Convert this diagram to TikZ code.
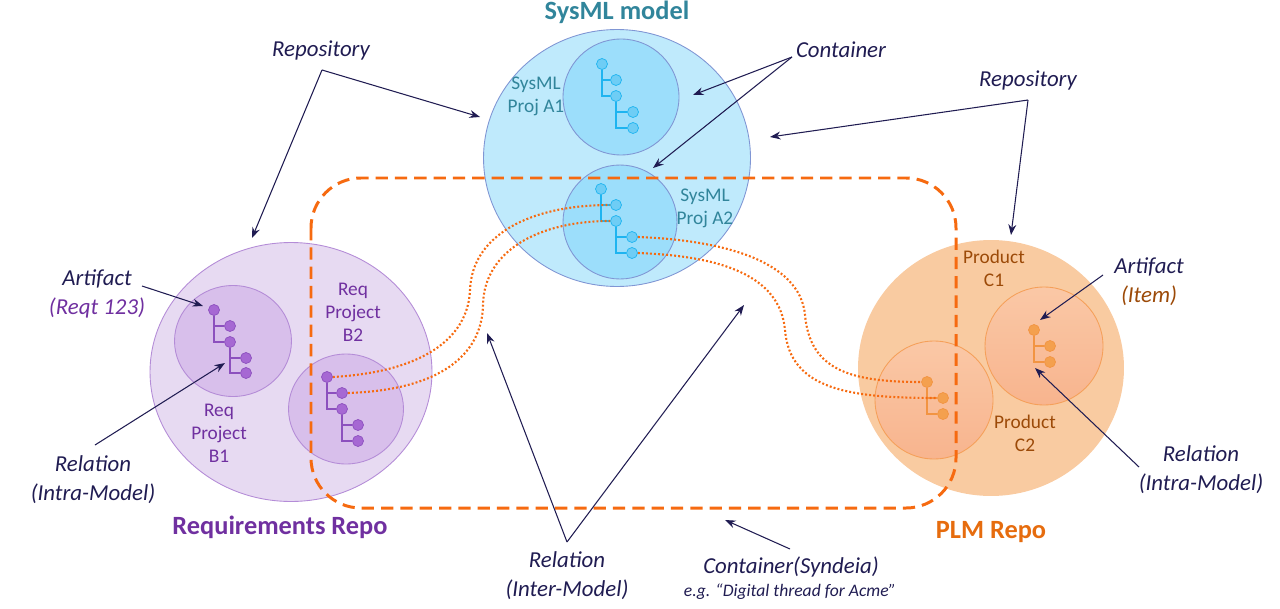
\documentclass[tikz,border=0pt]{standalone}
\usepackage{fontspec}
\setmainfont{Carlito}
\usepackage{tikz}
\usetikzlibrary{shapes.geometric,arrows.meta}

\definecolor{navy}{RGB}{32,28,82}
\definecolor{systeal}{RGB}{49,133,155}
\definecolor{sysfill}{RGB}{191,234,252}
\definecolor{sysin}{RGB}{156,222,251}
\definecolor{sysline}{RGB}{128,150,212}
\definecolor{systree}{RGB}{30,180,240}
\definecolor{sysdot}{RGB}{110,205,245}
\definecolor{reqpurple}{RGB}{112,48,160}
\definecolor{reqfill}{RGB}{231,218,242}
\definecolor{reqin}{RGB}{216,191,235}
\definecolor{reqline}{RGB}{180,140,215}
\definecolor{reqtree}{RGB}{140,80,190}
\definecolor{reqdot}{RGB}{166,104,211}
\definecolor{plmorange}{RGB}{230,108,14}
\definecolor{dashorange}{RGB}{246,106,16}
\definecolor{plmfill}{RGB}{249,203,161}
\definecolor{plmintop}{RGB}{250,200,166}
\definecolor{plminbot}{RGB}{248,180,142}
\definecolor{plmline}{RGB}{245,160,90}
\definecolor{plmtree}{RGB}{242,148,66}
\definecolor{plmdot}{RGB}{244,160,78}
\definecolor{itembrown}{RGB}{156,74,8}

\tikzset{
  repo/.style={ellipse, inner sep=0pt, line width=0.5pt},
  proj/.style={ellipse, inner sep=0pt, line width=0.5pt},
  treenode/.style={circle, inner sep=0pt, minimum size=0.22cm, line width=0.4pt},
  sysnode/.style={treenode, fill=sysdot, draw=systree},
  reqnode/.style={treenode, fill=reqdot, draw=reqtree},
  plmnode/.style={treenode, fill=plmdot, draw=plmtree},
  inlabel/.style={font=\fontsize{11}{13}\selectfont, align=center},
  title/.style={font=\fontsize{15}{18}\selectfont\bfseries},
  note/.style={font=\fontsize{13}{16.5}\selectfont\itshape, text=navy, align=center},
  annot/.style={draw=navy, line width=0.6pt, -{Stealth[length=6pt,width=4.5pt]}},
  relation/.style={draw=dashorange, line width=1.2pt, dash pattern=on 1.1pt off 1.2pt}
}

\begin{document}
\begin{tikzpicture}[x=0.02cm, y=-0.02cm]
    \useasboundingbox (0,0) rectangle (1280,608);

    % Repositories
    \node[repo, fill=sysfill, draw=sysline, minimum width=5.34cm, minimum height=5.14cm] (sysrepo) at (617,158) {};
    \node[repo, fill=reqfill, draw=reqline, minimum width=5.64cm, minimum height=5.18cm] (reqrepo) at (291,372) {};
    \node[repo, fill=plmfill, minimum width=5.32cm, minimum height=5.12cm] (plmrepo) at (991,368) {};

    % Projects
    \node[proj, fill=sysin, draw=sysline, minimum size=2.32cm] (a1) at (621,97) {};
    \node[proj, fill=sysin, draw=sysline, minimum size=2.28cm] (a2) at (620,222) {};
    \node[proj, fill=reqin, draw=reqline, minimum width=2.34cm, minimum height=2.22cm] (b1) at (233,341) {};
    \node[proj, fill=reqin, draw=reqline, minimum width=2.3cm, minimum height=2.2cm] (b2) at (346,409) {};
    \node[proj, top color=plmintop, bottom color=plminbot, draw=plmline, minimum size=2.36cm] (c1) at (1044,346) {};
    \node[proj, top color=plmintop, bottom color=plminbot, draw=plmline, minimum size=2.36cm] (c2) at (934,400) {};

    % Artifacts
    \node[sysnode] (a1r) at (602,64) {};  \node[sysnode] (a1c1) at (616,80) {};  \node[sysnode] (a1c2) at (616,96) {};
    \node[sysnode] (a1c3) at (633,112) {}; \node[sysnode] (a1c4) at (633,128) {};
    \node[sysnode] (a2r) at (601,189) {}; \node[sysnode] (a2c1) at (616,205) {}; \node[sysnode] (a2c2) at (616,221) {};
    \node[sysnode] (a2c3) at (632,237) {}; \node[sysnode] (a2c4) at (632,253) {};
    \node[reqnode] (b1r) at (214,310) {}; \node[reqnode] (b1c1) at (230,326) {}; \node[reqnode] (b1c2) at (230,342) {};
    \node[reqnode] (b1c3) at (246,358) {}; \node[reqnode] (b1c4) at (246,373) {};
    \node[reqnode] (b2r) at (327,377) {}; \node[reqnode] (b2c1) at (342,393) {}; \node[reqnode] (b2c2) at (342,409) {};
    \node[reqnode] (b2c3) at (358,425) {}; \node[reqnode] (b2c4) at (358,441) {};
    \node[plmnode] (c1r) at (1034,330) {}; \node[plmnode] (c1c1) at (1050,346) {}; \node[plmnode] (c1c2) at (1050,362) {};
    \node[plmnode] (c2r) at (927,382) {}; \node[plmnode] (c2c1) at (943,398) {}; \node[plmnode] (c2c2) at (943,414) {};

    % Intra-model relations
    \draw[systree, line width=0.8pt] (a1r) |- (a1c1) (a1r) |- (a1c2) (a1c2) |- (a1c3) (a1c2) |- (a1c4);
    \draw[systree, line width=0.8pt] (a2r) |- (a2c1) (a2r) |- (a2c2) (a2c2) |- (a2c3) (a2c2) |- (a2c4);
    \draw[reqtree, line width=0.8pt] (b1r) |- (b1c1) (b1r) |- (b1c2) (b1c2) |- (b1c3) (b1c2) |- (b1c4);
    \draw[reqtree, line width=0.8pt] (b2r) |- (b2c1) (b2r) |- (b2c2) (b2c2) |- (b2c3) (b2c2) |- (b2c4);
    \draw[plmtree, line width=0.8pt] (c1r) |- (c1c1) (c1r) |- (c1c2);
    \draw[plmtree, line width=0.8pt] (c2r) |- (c2c1) (c2r) |- (c2c2);

    % Labels
    \node[title, text=systeal] (systitle) at (617,12) {SysML model};
    \node[title, text=reqpurple] (reqtitle) at (280,527) {Requirements Repo};
    \node[title, text=plmorange] (plmtitle) at (991,532) {PLM Repo};
    \node[inlabel, text=systeal] (a1lab) at (536,96) {SysML\\Proj A1};
    \node[inlabel, text=systeal] (a2lab) at (705,208) {SysML\\Proj A2};
    \node[inlabel, text=reqpurple] (b1lab) at (219,433) {Req\\Project\\B1};
    \node[inlabel, text=reqpurple] (b2lab) at (353,312) {Req\\Project\\B2};
    \node[inlabel, text=itembrown] (c1lab) at (994,268) {Product\\C1};
    \node[inlabel, text=itembrown] (c2lab) at (1025,433) {Product\\C2};

    % Container (Syndeia)
    \draw[dashorange, line width=1.7pt, dash pattern=on 7pt off 4pt, rounded corners=1cm] (311,178) rectangle (956,508);

    % Inter-model relations
    \coordinate (m1) at (470,290);
    \coordinate (m2) at (483,305);
    \coordinate (m3) at (805,315);
    \coordinate (m4) at (785,330);
    \draw[relation] (b2r.east) .. controls (420,372) and (468,340) .. (m1) .. controls (472,235) and (530,205) .. (a2c1.west);
    \draw[relation] (b2c1.east) .. controls (440,390) and (482,355) .. (m2) .. controls (484,250) and (540,221) .. (a2c2.west);
    \draw[relation] (a2c3.east) .. controls (720,240) and (800,260) .. (m3) .. controls (810,370) and (850,382) .. (c2r.west);
    \draw[relation] (a2c4.east) .. controls (720,256) and (780,275) .. (m4) .. controls (790,390) and (850,398) .. (c2c1.west);

    % Annotations
    \node[note] (repoL) at (321,50) {Repository};
    \node[note] (contA) at (841,50) {Container};
    \node[note] (repoR) at (1028,80) {Repository};
    \node[note] (artL) at (97,294) {Artifact\\{\color{reqpurple}(Reqt 123)}};
    \node[note] (relL) at (93,480) {Relation\\(Intra-Model)};
    \node[note] (artR) at (1149,282) {Artifact\\{\color{itembrown}(Item)}};
    \node[note] (relR) at (1201,470) {Relation\\(Intra-Model)};
    \node[note] (relM) at (567,576) {Relation\\(Inter-Model)};
    \node[note] (contS) at (791,567) {Container(Syndeia)};
    \node[note, font=\fontsize{10}{12}\selectfont\itshape] (eg) at (790,592) {e.g. “Digital thread for Acme”};

    \coordinate (repoLf) at (322,70);
    \coordinate (contAf) at (792,57);
    \coordinate (repoRf) at (1028,100);
    \coordinate (relMf) at (567,542);
    \draw[annot] (repoLf) -- (252,238);
    \draw[annot] (repoLf) -- (480,117);
    \draw[annot] (contAf) -- (693,95);
    \draw[annot] (contAf) -- (653,168);
    \draw[annot] (repoRf) -- (770,137);
    \draw[annot] (repoRf) -- (1011,235);
    \draw[annot] (142,286) -- (203,306);
    \draw[annot] (95,445) -- (225,363);
    \draw[annot] (1103,275) -- (1040,320);
    \draw[annot] (1139,467) -- (1035,368);
    \draw[annot] (relMf) -- (487,333);
    \draw[annot] (relMf) -- (744,305);
    \draw[annot] (790,549) -- (725,520);
\end{tikzpicture}
\end{document}
